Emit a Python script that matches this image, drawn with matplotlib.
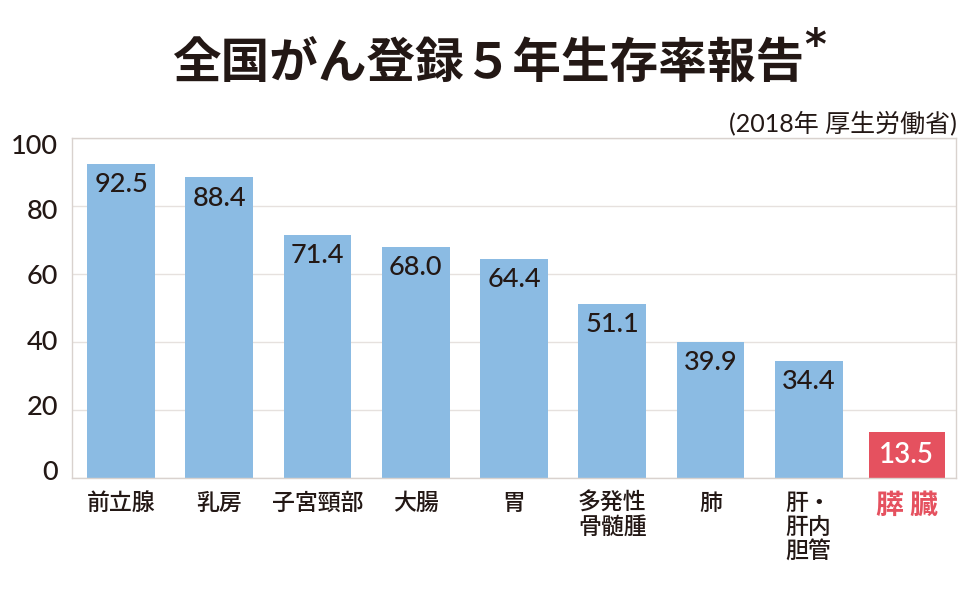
import matplotlib
matplotlib.use("Agg")
import matplotlib.pyplot as plt
from matplotlib.transforms import ScaledTranslation

plt.rcParams['font.family'] = ['Lato', 'Noto Sans CJK JP', 'DejaVu Sans']

categories = ["前立腺", "乳房", "子宮頸部", "大腸", "胃", "多発性\n骨髄腫", "肺", "肝・\n肝内\n胆管", "膵 臓"]
values = [92.5, 88.4, 71.4, 68.0, 64.4, 51.1, 39.9, 34.4, 13.5]
yticks = [0, 20, 40, 60, 80, 100]

blue = "#8bbbe3"
red = "#e5515f"
dark = "#231815"
frame = "#d9d2ce"
cjk = ['Noto Sans CJK JP', 'DejaVu Sans']

fig = plt.figure(figsize=(9.7, 6.0), dpi=100)
ax = fig.add_axes([72/970, 1-478/600, 884/970, 340/600])

x = list(range(len(values)))
for i, v in enumerate(values):
    last = (i == len(values) - 1)
    ax.bar(i, v, width=0.77 if last else 0.69, color=red if last else blue, zorder=2)
    if last:
        ax.text(i, v / 2, f"{v:.1f}", ha="center", va="center", color="white",
                fontsize=20, fontweight="semibold", zorder=3)
    else:
        ax.text(i, v - 2.4, f"{v:.1f}", ha="center", va="top", color=dark,
                fontsize=19.5, fontweight="medium", zorder=3)

ax.set_xlim(-0.5, len(values) - 0.5)
ax.set_ylim(0, 99.6)
ax.set_yticks(yticks)
ax.set_yticklabels([str(t) for t in yticks], fontsize=19.5, color=dark, fontweight="medium")
ax.tick_params(axis="y", length=0, pad=10)
ax.tick_params(axis="x", length=0, pad=10)
ax.set_xticks(x)
ax.set_xticklabels(categories, fontsize=16.5, color=dark, linespacing=1.05, va="top",
                   family=cjk, fontweight="medium")
lbls = ax.get_xticklabels()
lbls[-1].set_color(red)
lbls[-1].set_fontsize(20)
lbls[-1].set_fontweight("bold")
ylbls = ax.get_yticklabels()
n = len(ylbls)
for k, t in enumerate(ylbls):
    shift = (6 - 14 * (n - 1 - k) / (n - 1)) / 100.0
    t.set_transform(t.get_transform() + ScaledTranslation(0, -shift, fig.dpi_scale_trans))

ax.grid(axis="y", color="#e6e1de", linewidth=1, zorder=0)
for s in ax.spines.values():
    s.set_color(frame)
    s.set_linewidth(1)

fig.text(488/970, 1 - 64/600, "全国がん登録５年生存率報告", ha="center", va="center",
         fontsize=35, fontweight="bold", color=dark, family=cjk)
fig.text(804/970, 1 - 47/600, "*", ha="left", va="center", fontsize=30,
         fontweight="bold", color=dark, family=['DejaVu Sans'])
fig.text(957/970, 1 - 123/600, "(2018年 厚生労働省)", ha="right", va="center",
         fontsize=18, color=dark)

fig.savefig("out.png", dpi=100, facecolor="white")
